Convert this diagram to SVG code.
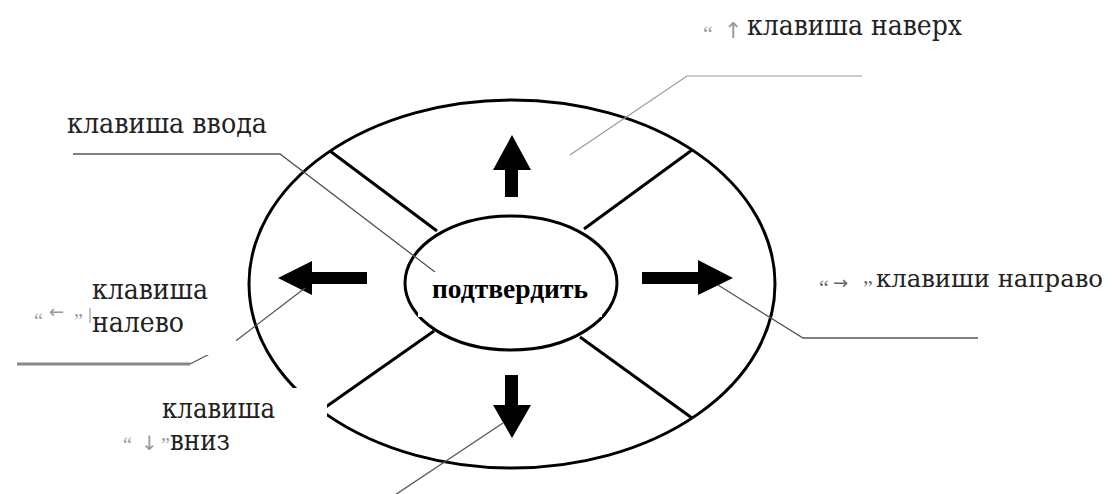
<svg xmlns="http://www.w3.org/2000/svg" width="1112" height="494" viewBox="0 0 1112 494">
<style>
.ring{fill:none;stroke:#000;stroke-width:3}
.div{stroke:#000;stroke-width:3}
.arr{fill:#000}
.lead{fill:none;stroke:#555;stroke-width:1.3}
.lead-light{fill:none;stroke:#999;stroke-width:1.2}
.lead-thick{fill:none;stroke:#888;stroke-width:3}
.mask{fill:#fff}
.lbl{font-family:'DejaVu Serif','Liberation Serif',serif;font-size:28px;fill:#222}
.ok{font-family:'Liberation Serif','DejaVu Serif',serif;font-size:28px;font-weight:bold;fill:#000}
.sym{font-family:'DejaVu Sans',sans-serif;fill:#999}
.q{font-family:'Liberation Serif',serif;fill:#999}
</style>
<rect width="1112" height="494" fill="#fff"/>
<g id="keypad">
  <ellipse class="ring" cx="512" cy="284" rx="263" ry="184"/>
  <line class="div" x1="330" y1="151" x2="437" y2="231"/>
  <line class="div" x1="692" y1="150" x2="584" y2="229"/>
  <line class="div" x1="434" y1="331" x2="320" y2="411"/>
  <line class="div" x1="580" y1="337" x2="692" y2="418"/>
</g>
<g id="key-up"><polygon class="arr" points="512,135 531,170 518,170 518,197 505,197 505,170 493,170"/></g>
<g id="key-left"><polygon class="arr" points="278,278 312,261 312,272 367,272 367,284 312,284 312,295"/></g>
<g id="key-right"><polygon class="arr" points="733,278 698,260 698,272 642,272 642,284 698,284 698,295"/></g>
<g id="key-down"><polygon class="arr" points="512,438 531,405 518,405 518,375 505,375 505,405 493,405"/></g>
<g id="key-enter"><ellipse class="ring" cx="511" cy="283" rx="106" ry="67"/></g>
<g id="connectors">
  <polyline class="lead-light" points="862,76 687,76 570,155"/>
  <polyline class="lead" points="73,154 280,154 435,272"/>
  <polyline class="lead-thick" points="17,364 190,364"/>
  <polyline class="lead" points="190,364 237,340 305,288"/>
  <polyline class="lead" points="718,285 803,338 978,338"/>
  <line class="lead" x1="503" y1="423" x2="383" y2="503"/>
</g>
<g id="masks">
  <rect class="mask" x="88" y="250" width="148" height="105"/>
  <rect class="mask" x="418" y="272" width="184" height="45"/>
  <rect class="mask" x="120" y="388" width="207" height="90"/>
</g>
<g id="label-up">
  <text class="q" x="703" y="41" font-size="22">“</text>
  <text class="sym" x="724" y="38" font-size="22">↑</text>
  <text class="lbl" x="747" y="35" textLength="215" lengthAdjust="spacingAndGlyphs">клавиша наверх</text>
</g>
<g id="label-enter">
  <text class="lbl" x="67" y="133" textLength="200" lengthAdjust="spacingAndGlyphs">клавиша ввода</text>
</g>
<g id="label-left">
  <text class="lbl" x="92" y="299" textLength="116" lengthAdjust="spacingAndGlyphs">клавиша</text>
  <text class="q" x="34" y="328" font-size="20">“</text>
  <text class="sym" x="49" y="318" font-size="18">←</text>
  <text class="q" x="74" y="328" font-size="20">”</text>
  <line x1="90" y1="308" x2="90" y2="323" stroke="#888" stroke-width="1"/>
  <text class="lbl" x="92" y="332" textLength="92" lengthAdjust="spacingAndGlyphs">налево</text>
</g>
<g id="label-confirm">
  <text class="ok" x="432" y="298" textLength="156" lengthAdjust="spacingAndGlyphs">подтвердить</text>
</g>
<g id="label-right">
  <text class="q" x="819" y="295" font-size="22" style="fill:#666">“</text>
  <text class="sym" x="833" y="289" font-size="18" style="fill:#666">→</text>
  <text class="q" x="863" y="295" font-size="22" style="fill:#666">”</text>
  <text class="lbl" x="876" y="287" style="font-size:25px" textLength="227" lengthAdjust="spacingAndGlyphs">клавиши направо</text>
</g>
<g id="label-down">
  <text class="lbl" x="162" y="418" style="font-size:27px" textLength="113" lengthAdjust="spacingAndGlyphs">клавиша</text>
  <text class="q" x="123" y="452" font-size="20">“</text>
  <text class="sym" x="141" y="450" font-size="20">↓</text>
  <text class="q" x="161" y="452" font-size="20">”</text>
  <text class="lbl" x="170" y="450" style="font-size:27px" textLength="60" lengthAdjust="spacingAndGlyphs">вниз</text>
</g>
</svg>
